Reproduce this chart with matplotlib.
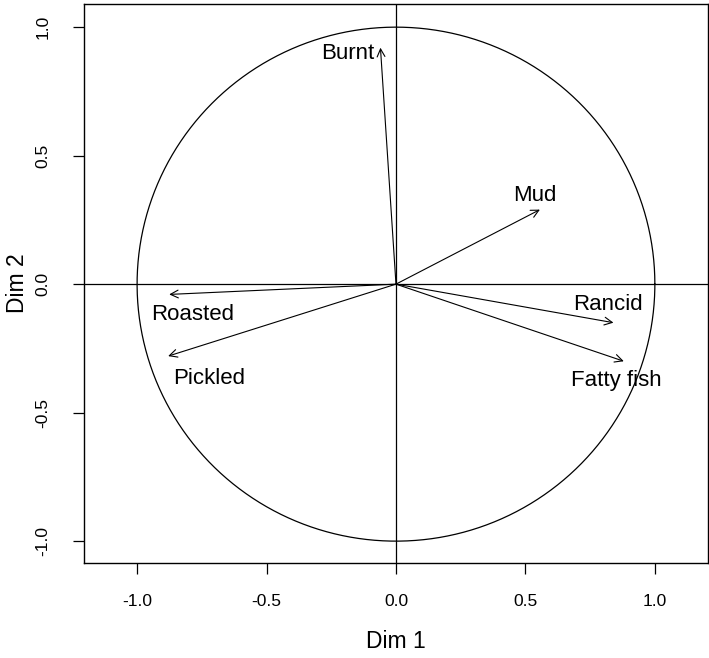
import numpy as np
import matplotlib
matplotlib.use('Agg')
import matplotlib.pyplot as plt

plt.rcParams['font.family'] = ['Liberation Sans', 'DejaVu Sans']

# variable coordinates on Dim 1 / Dim 2
names = ['Burnt', 'Mud', 'Rancid', 'Fatty fish', 'Roasted', 'Pickled']
dim1 = [-0.06, 0.556, 0.84, 0.88, -0.876, -0.88]
dim2 = [0.92, 0.29, -0.15, -0.30, -0.04, -0.28]
# label positions
lab_x = [-0.185, 0.537, 0.819, 0.853, -0.785, -0.722]
lab_y = [0.899, 0.346, -0.078, -0.374, -0.117, -0.366]

fig = plt.figure(figsize=(7.09, 6.58), dpi=100)
ax = fig.add_axes([0.1185, 0.1444, 0.880, 0.8495])

t = np.linspace(0, 2 * np.pi, 400)
ax.plot(np.cos(t), np.sin(t), color='black', lw=0.9)
ax.axhline(0, color='black', lw=0.9)
ax.axvline(0, color='black', lw=0.9)

for n, x, y, lx, ly in zip(names, dim1, dim2, lab_x, lab_y):
    ax.annotate('', xy=(x, y), xytext=(0, 0),
                arrowprops=dict(arrowstyle='->', color='black', lw=0.8,
                                shrinkA=0, shrinkB=0, mutation_scale=14))
    ax.text(lx, ly, n, ha='center', va='center', fontsize=16)

ax.set_xlim(-1.205, 1.205)
ax.set_ylim(-1.085, 1.09)
ax.set_xticks([-1.0, -0.5, 0.0, 0.5, 1.0])
ax.set_yticks([-1.0, -0.5, 0.0, 0.5, 1.0])
ax.set_xticklabels(['-1.0', '-0.5', '0.0', '0.5', '1.0'])
ax.set_yticklabels(['-1.0', '-0.5', '0.0', '0.5', '1.0'], rotation=90, va='center')
ax.tick_params(length=8, width=0.9, labelsize=12.5)
ax.tick_params(axis='x', pad=14)
ax.tick_params(axis='y', pad=16)
ax.set_xlabel('Dim 1', fontsize=16.5, labelpad=15.5)
ax.set_ylabel('Dim 2', fontsize=16.5, labelpad=5)
for s in ax.spines.values():
    s.set_linewidth(1.0)

fig.savefig('out.png', dpi=100)
